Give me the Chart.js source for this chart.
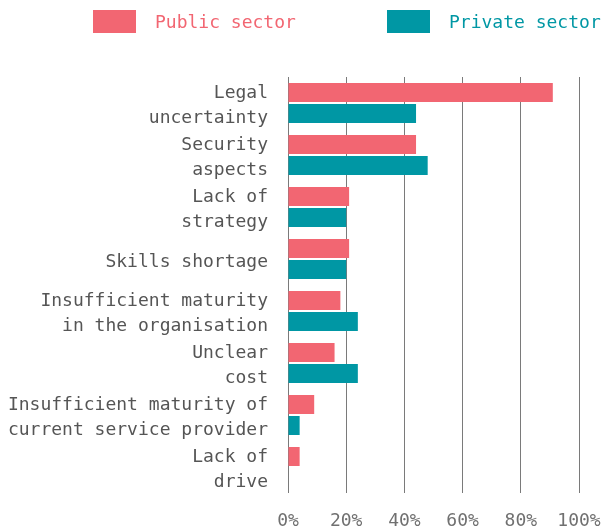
<!DOCTYPE html>
<html>
<head>
<meta charset="utf-8">
<script src="https://cdn.jsdelivr.net/npm/chart.js@4.4.1/dist/chart.umd.min.js"></script>
<style>
  html, body { margin: 0; padding: 0; background: #fff; }
  #wrap { position: relative; width: 603px; height: 530px; }
  #legend { position: absolute; top: 0; left: 0; width: 603px; height: 45px;
            font-family: "DejaVu Sans Mono", monospace; font-size: 18px; }
  .item { position: absolute; top: 10px; height: 23px; line-height: 23px; }
  .box { position: absolute; top: 0; width: 43px; height: 23px; }
  .txt { position: absolute; top: 0; white-space: nowrap; }
</style>
</head>
<body>
<div id="wrap">
  <canvas id="barriers" width="603" height="530"></canvas>
  <div id="legend"></div>
</div>
<script>
const categories = [
    ['Legal', 'uncertainty'],
    ['Security', 'aspects'],
    ['Lack of', 'strategy'],
    'Skills shortage',
    ['Insufficient maturity', 'in the organisation'],
    ['Unclear', 'cost'],
    ['Insufficient maturity of', 'current service provider'],
    ['Lack of', 'drive']
];
const publicSector = [91, 44, 21, 21, 18, 16, 9, 4];
const privateSector = [44, 48, 20, 20, 24, 24, 4, 0];
const tickValues = [0, 20, 40, 60, 80, 100];

const pink = '#f26672';
const teal = '#0097a4';
const font = '"DejaVu Sans Mono", monospace';

// legend sits above the plot as plain html
const legendItems = [
    { label: 'Public sector', color: pink, x: 93 },
    { label: 'Private sector', color: teal, x: 387 }
];
const legendEl = document.getElementById('legend');
legendItems.forEach(function(it) {
    const d = document.createElement('div');
    d.className = 'item';
    d.style.left = it.x + 'px';
    d.innerHTML = '<div class="box" style="left:0;background:' + it.color + '"></div>' +
        '<div class="txt" style="left:62px;color:' + it.color + '">' + it.label + '</div>';
    legendEl.appendChild(d);
});

const chart = new Chart(document.getElementById('barriers'), {
    type: 'bar',
    data: {
        labels: categories,
        datasets: [
            { label: 'Public sector', data: publicSector, backgroundColor: pink,
              categoryPercentage: 0.808, barPercentage: 0.905 },
            { label: 'Private sector', data: privateSector, backgroundColor: teal,
              categoryPercentage: 0.808, barPercentage: 0.905 }
        ]
    },
    options: {
        indexAxis: 'y',
        responsive: false,
        animation: false,
        layout: { padding: { top: 77, right: 0, bottom: 0, left: 0 } },
        plugins: {
            legend: { display: false },
            tooltip: { enabled: false }
        },
        scales: {
            x: {
                min: 0,
                max: 100,
                afterBuildTicks: function(axis) {
                    axis.ticks = tickValues.map(function(v) { return { value: v }; });
                },
                afterFit: function(axis) {
                    axis.height = 37;
                    axis.paddingRight = 24;
                    axis.paddingLeft = 0;
                },
                grid: { color: '#7a7a7a', lineWidth: 1, drawTicks: false },
                border: { display: false },
                ticks: {
                    padding: 18,
                    maxRotation: 0,
                    color: '#707070',
                    font: { family: font, size: 18 },
                    callback: function(v) { return v + '%'; }
                }
            },
            y: {
                afterFit: function(axis) {
                    axis.width = 288;
                    axis.paddingTop = 0;
                    axis.paddingBottom = 0;
                },
                grid: { display: false, drawTicks: false },
                border: { display: false },
                ticks: {
                    autoSkip: false,
                    padding: 20,
                    labelOffset: 3,
                    color: '#555',
                    font: { family: font, size: 18, lineHeight: 1.39 }
                }
            }
        }
    }
});
</script>
</body>
</html>
